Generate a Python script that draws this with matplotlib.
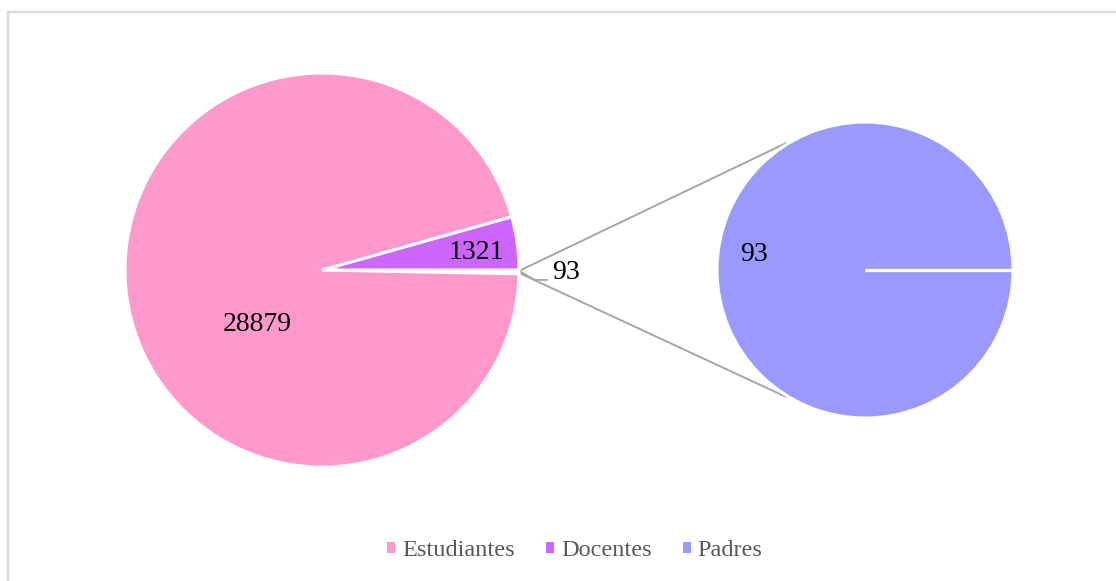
import numpy as np
import matplotlib.pyplot as plt
from matplotlib.patches import Patch
from matplotlib.lines import Line2D

plt.rcParams['font.family'] = ['Liberation Serif', 'DejaVu Serif']

# Datos
categorias = ['Estudiantes', 'Docentes', 'Padres']
valores = [28879, 1321, 93]
colores = ['#FF99CC', '#CC66FF', '#9999FF']

total = sum(valores)

W, H = 1116, 581
fig = plt.figure(figsize=(W / 100, H / 100), dpi=100)
ax = fig.add_axes([0, 0, 1, 1])

# Marco del gráfico
fig.add_artist(Line2D([8 / W, 1.0], [1 - 12 / H, 1 - 12 / H], color='#d9d9d9', lw=1.6))
fig.add_artist(Line2D([8 / W, 8 / W], [0.0, 1 - 12 / H], color='#d9d9d9', lw=1.6))

# Pastel principal: Padres agrupado como "otro", luego Docentes y Estudiantes
c1, r1 = (322, H - 270), 197
inicio = -360 * valores[2] / total
wedges1, _ = ax.pie([valores[2], valores[1], valores[0]],
                    colors=['white', colores[1], colores[0]],
                    startangle=inicio, counterclock=True,
                    center=c1, radius=r1,
                    wedgeprops=dict(edgecolor='white', linewidth=2.2))

# Pastel secundario: solo Padres
c2, r2 = (865, H - 270), 148
wedges2, _ = ax.pie([valores[2]], colors=[colores[2]], startangle=0,
                    center=c2, radius=r2,
                    wedgeprops=dict(edgecolor='white', linewidth=2.2))
# borde radial del sector único
ax.plot([c2[0], c2[0] + r2], [c2[1], c2[1]], color='white', lw=2.4,
        solid_capstyle='butt')


def punto(c, r, ang, f=1.0):
    a = np.deg2rad(ang)
    return c[0] + f * r * np.cos(a), c[1] + f * r * np.sin(a)


fs = 20
# Etiquetas de valores
w_doc = wedges1[1]
x, y = punto(c1, r1, (w_doc.theta1 + w_doc.theta2) / 2 - 1.5, 0.79)
ax.text(x, y, str(valores[1]), fontsize=fs, ha='center', va='center')
x, y = punto(c1, r1, 220, 0.43)
ax.text(x, y, str(valores[0]), fontsize=fs, ha='center', va='center')
x, y = punto(c2, r2, 172, 0.76)
ax.text(x, y, str(valores[2]), fontsize=fs, ha='center', va='center')

# Etiqueta del sector "otro" con línea guía
w_otro = wedges1[0]
px, py = punto(c1, r1, (w_otro.theta1 + w_otro.theta2) / 2, 1.01)
ax.plot([px, px + 14, px + 26], [py, py - 8, py - 8], color='#a6a6a6', lw=1.3)
ax.text(px + 45, py - 1, str(valores[2]), fontsize=fs, ha='center', va='center')

# Líneas de conexión entre los dos pasteles
for ang_a, ang_b in [(w_otro.theta2, 122), (w_otro.theta1, 238)]:
    xa, ya = punto(c1, r1, ang_a, 1.01)
    xb, yb = punto(c2, r2, ang_b, 1.01)
    ax.plot([xa, xb], [ya, yb], color='#a6a6a6', lw=1.4, zorder=0)

ax.set_xlim(0, W)
ax.set_ylim(0, H)
ax.set_aspect('equal')
ax.axis('off')

# Leyenda
handles = [Patch(facecolor=c, edgecolor='none') for c in colores]
leg = fig.legend(handles, categorias, loc='center', ncol=3,
                 bbox_to_anchor=(575 / W, 1 - 551 / H), frameon=False,
                 fontsize=17.5, handlelength=0.32, handleheight=0.32,
                 handletextpad=0.28, columnspacing=1.3)
for t in leg.get_texts():
    t.set_color('#595959')

fig.savefig('out.png', dpi=100)
